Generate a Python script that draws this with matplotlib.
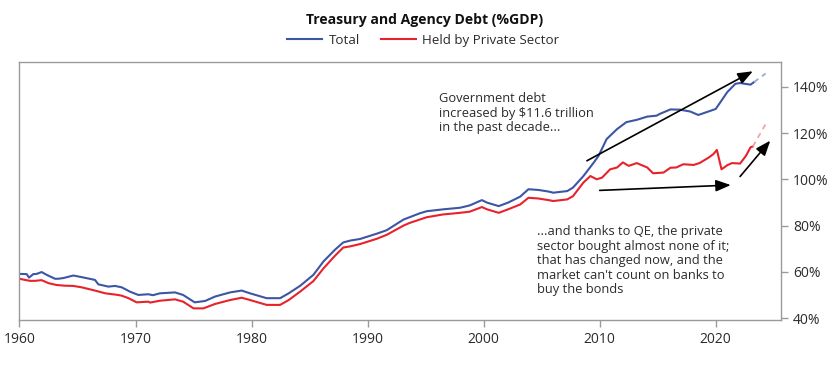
import matplotlib
matplotlib.use('Agg')
import matplotlib.pyplot as plt

plt.rcParams['font.family'] = ['Open Sans', 'DejaVu Sans']

# Total (%GDP)
total_years = [1960.0, 1960.62, 1960.82, 1961.19, 1961.48, 1961.91, 1962.34, 1963.06, 1963.34, 1963.78,
               1964.64, 1965.36, 1966.51, 1966.79, 1967.66, 1968.23, 1968.81, 1969.53, 1970.24, 1971.1,
               1971.5, 1972.1, 1973.4, 1974.1, 1975.1, 1976.0, 1976.85, 1978.15, 1979.15, 1979.87,
               1981.3, 1982.46, 1983.2, 1984.2, 1985.33, 1986.2, 1987.2, 1987.9, 1988.5, 1989.35,
               1990.8, 1991.65, 1993.1, 1994.5, 1995.1, 1996.5, 1997.97, 1998.8, 1999.85, 2000.3,
               2001.3, 2002.1, 2003.15, 2003.86, 2004.7, 2005.6, 2006.0, 2007.2, 2007.7, 2008.6,
               2009.5, 2009.9, 2010.6, 2011.5, 2012.3, 2013.2, 2014.1, 2014.9, 2015.2, 2016.1,
               2016.9, 2017.8, 2018.5, 2019.2, 2020.0, 2020.4, 2021.0, 2021.7, 2022.1, 2023.0, 2023.3]
total_vals = [59.1, 59.0, 57.5, 59.0, 59.1, 59.9, 58.7, 57.0, 57.0, 57.3,
              58.4, 57.7, 56.5, 54.6, 53.6, 53.9, 53.3, 51.4, 50.0, 50.3,
              49.9, 50.7, 51.1, 50.0, 46.8, 47.4, 49.3, 51.1, 51.9, 50.7,
              48.6, 48.6, 50.7, 54.0, 58.7, 64.5, 69.6, 72.7, 73.5, 74.2,
              76.5, 78.0, 82.6, 85.3, 86.2, 87.0, 87.7, 88.7, 91.0, 89.9,
              88.4, 89.9, 92.5, 95.7, 95.4, 94.7, 94.2, 94.9, 96.4, 101.4,
              107.3, 110.1, 117.4, 121.7, 124.7, 125.7, 127.1, 127.5, 128.3, 130.2,
              130.1, 129.3, 127.8, 129.0, 130.4, 133.3, 137.7, 141.3, 141.6, 140.9, 142.0]
total_proj_years = [2023.3, 2024.3]
total_proj_vals = [142.0, 145.7]

# Held by private sector (%GDP)
private_years = [1960.0, 1960.47, 1960.9, 1961.34, 1961.9, 1962.5, 1963.2, 1963.9, 1964.64, 1965.36,
                 1966.5, 1967.4, 1968.5, 1968.8, 1969.4, 1970.1, 1971.1, 1971.25, 1972.1, 1973.4,
                 1974.1, 1975.0, 1975.85, 1976.85, 1978.15, 1979.15, 1979.87, 1981.3, 1982.46, 1983.2,
                 1984.2, 1985.33, 1986.2, 1987.2, 1987.9, 1988.5, 1989.35, 1990.8, 1991.65, 1993.1,
                 1993.66, 1995.1, 1996.5, 1997.97, 1998.8, 1999.85, 2000.3, 2001.3, 2002.1, 2003.15,
                 2003.86, 2004.7, 2005.6, 2006.0, 2007.2, 2007.7, 2008.6, 2009.2, 2009.75, 2010.2,
                 2010.9, 2011.5, 2012.0, 2012.5, 2013.2, 2014.1, 2014.6, 2015.5, 2016.1, 2016.6,
                 2017.2, 2018.1, 2018.6, 2019.4, 2019.8, 2020.1, 2020.5, 2021.0, 2021.4, 2022.1,
                 2022.6, 2023.0, 2023.2]
private_vals = [57.0, 56.5, 56.1, 56.1, 56.4, 55.1, 54.3, 54.0, 53.9, 53.3,
                51.9, 50.7, 50.0, 49.7, 48.6, 46.8, 47.1, 46.7, 47.5, 48.1,
                47.1, 44.2, 44.2, 46.1, 47.8, 48.8, 47.8, 45.7, 45.7, 47.8,
                51.5, 56.0, 61.5, 67.0, 70.5, 71.0, 72.0, 74.3, 76.0, 80.0,
                81.2, 83.6, 84.8, 85.5, 86.0, 88.0, 87.0, 85.5, 87.0, 89.1,
                92.0, 91.7, 91.0, 90.6, 91.3, 92.7, 98.6, 101.4, 100.0, 100.7,
                104.3, 105.1, 107.3, 105.8, 107.0, 105.1, 102.6, 102.9, 105.0, 105.1,
                106.5, 106.2, 107.0, 109.4, 110.9, 112.7, 104.3, 106.1, 107.0, 106.8,
                110.1, 113.8, 114.2]
private_proj_years = [2023.2, 2024.4]
private_proj_vals = [114.2, 124.7]

x_ticks = [1960, 1970, 1980, 1990, 2000, 2010, 2020]
y_ticks = [40, 60, 80, 100, 120, 140]

# arrows: (start_x, start_y, end_x, end_y)
arrow_upper = (2008.9, 108.0, 2023.2, 146.7)
arrow_lower = (2010.0, 95.2, 2021.3, 97.5)
arrow_right = (2022.1, 101.2, 2024.7, 116.7)

BLUE = '#3d55a5'
RED = '#e8222b'
GREY = '#9a9a9a'
TXT = '#2b2b2b'

fig = plt.figure(figsize=(8.4, 3.66), dpi=100)
ax = fig.add_axes([0.0232, 0.1265, 0.9062, 0.7041])

ax.plot(total_years, total_vals, color=BLUE, lw=1.5, label='Total')
ax.plot(private_years, private_vals, color=RED, lw=1.5, label='Held by Private Sector')
ax.plot(total_proj_years, total_proj_vals, color='#9aa6dc', lw=1.3, ls=(0, (3, 2.5)))
ax.plot(private_proj_years, private_proj_vals, color='#f4a3a6', lw=1.3, ls=(0, (3, 2.5)))

for sx, sy, ex, ey in [arrow_upper, arrow_lower, arrow_right]:
    ax.annotate('', xy=(ex, ey), xytext=(sx, sy),
                arrowprops=dict(arrowstyle='-|>,head_length=0.9,head_width=0.35',
                                color='black', lw=1.2, shrinkA=0, shrinkB=0))

ax.text(1996.14, 128.6, 'Government debt\nincreased by $11.6 trillion\nin the past decade...',
        fontsize=9.3, color=TXT, va='center', ha='left', linespacing=1.15)
ax.text(2004.6, 64.7, '...and thanks to QE, the private\nsector bought almost none of it;\n'
        'that has changed now, and the\nmarket can\'t count on banks to\nbuy the bonds',
        fontsize=9.3, color=TXT, va='center', ha='left', linespacing=1.15)

ax.set_xlim(1960, 2025.6)
ax.set_ylim(39.3, 150.7)
ax.set_xticks(x_ticks)
ax.set_yticks(y_ticks)
ax.set_yticklabels([f'{v}%' for v in y_ticks])
ax.yaxis.tick_right()
ax.tick_params(axis='both', colors=GREY, length=5, width=1, labelsize=10,
               labelcolor=TXT, pad=4)
for sp in ax.spines.values():
    sp.set_color(GREY)
    sp.set_linewidth(1)

fig.text(0.506, 0.945, 'Treasury and Agency Debt (%GDP)', ha='center', va='center',
         fontsize=10.1, fontweight='bold', color='#111111')
fig.legend(loc='center', bbox_to_anchor=(0.504, 0.889), ncol=2, frameon=False,
           fontsize=9.6, handlelength=2.6, columnspacing=1.6, handletextpad=0.5,
           labelcolor=TXT)

fig.savefig('out.png', dpi=100)
